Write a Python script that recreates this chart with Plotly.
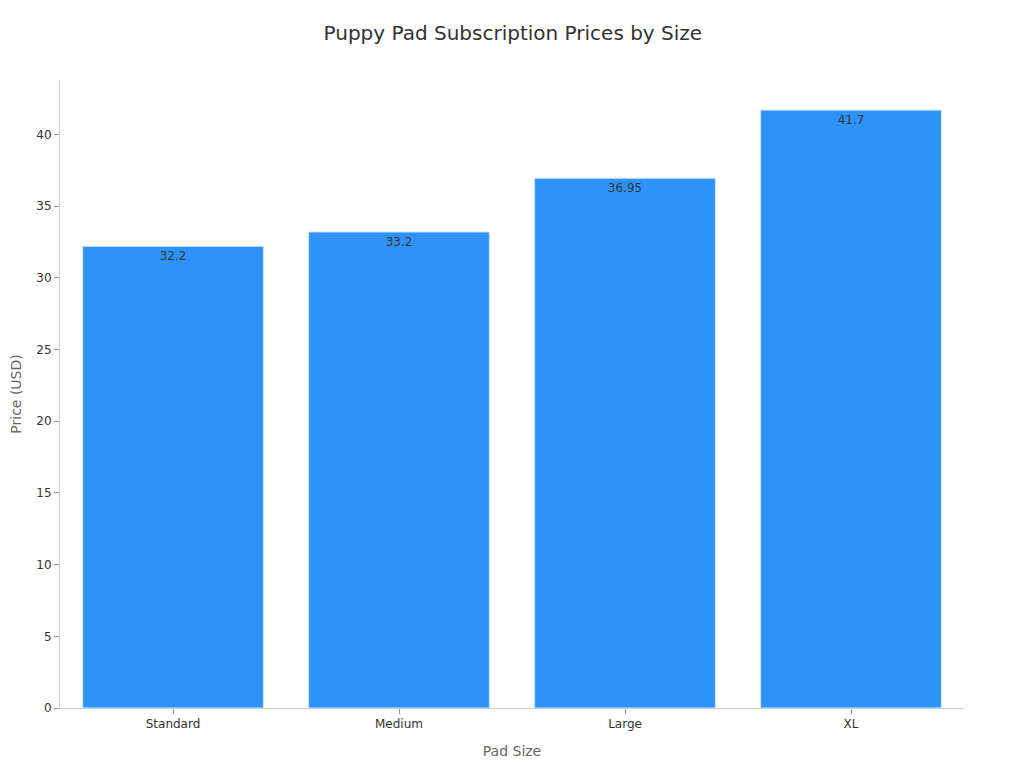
import plotly.graph_objects as go

# Chart data
sizes = ["Standard", "Medium", "Large", "XL"]
prices = [32.2, 33.2, 36.95, 41.7]

fig = go.Figure()

fig.add_trace(go.Bar(
    x=sizes,
    y=prices,
    text=[str(p) for p in prices],
    textposition="inside",
    insidetextanchor="end",
    textfont=dict(color="#333333", size=12),
    marker=dict(color="#2e93f9", line=dict(color="#cfe6fd", width=1)),
    showlegend=False
))

# page has an 8px body margin, so the margins are shifted to compensate
fig.update_layout(
    width=1024,
    height=768,
    title=dict(text="Puppy Pad Subscription Prices by Size", x=0.493, xanchor="center", y=0.977,
               font=dict(size=20, color="#333333")),
    font=dict(family="DejaVu Sans, sans-serif", size=12, color="#333333"),
    plot_bgcolor="white",
    paper_bgcolor="white",
    margin=dict(l=52, r=68, t=72, b=68, autoexpand=False),
    bargap=0.2,
    xaxis=dict(
        title=dict(text="Pad Size", font=dict(size=14, color="#666666"), standoff=15),
        showline=True, linecolor="#d0d0d0", linewidth=1,
        ticks="outside", tickcolor="#999999", ticklen=5,
        showgrid=False, automargin=False
    ),
    yaxis=dict(
        title=dict(text="Price (USD)", font=dict(size=14, color="#666666"), standoff=18),
        range=[0, 43.8],
        dtick=5,
        showline=True, linecolor="#d0d0d0", linewidth=1,
        ticks="outside", tickcolor="#999999", ticklen=5,
        showgrid=False, zeroline=False, automargin=False
    )
)

fig.write_html("out.html")
